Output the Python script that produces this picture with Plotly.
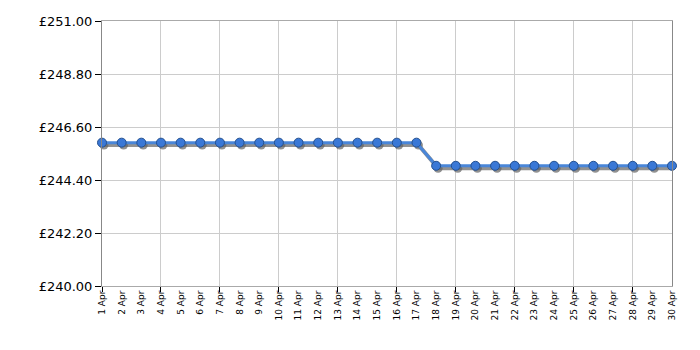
import plotly.graph_objects as go

days = [f"{d} Apr" for d in range(1, 31)]
prices = [245.95] * 17 + [244.99] * 13
y_ticks = [240.00, 242.20, 244.40, 246.60, 248.80, 251.00]

y_range = [240, 251]
n = len(days)
idx = list(range(n))
grid_idx = idx[::3]

fig = go.Figure()

# shadow trace on the (hidden) base axes, slightly shifted range
fig.add_trace(go.Scatter(
    x=idx, y=prices, mode="lines+markers", xaxis="x", yaxis="y",
    line=dict(color="rgba(100,100,100,0.7)", width=4),
    marker=dict(size=9, color="rgba(100,100,100,0.7)"),
    cliponaxis=False, hoverinfo="skip", showlegend=False))

# main trace on visible overlay axes
fig.add_trace(go.Scatter(
    x=idx, y=prices, mode="lines+markers", xaxis="x2", yaxis="y2",
    line=dict(color="#4a86d8", width=3),
    marker=dict(size=9, color="#3a78d6", line=dict(color="#24508f", width=1)),
    cliponaxis=False, showlegend=False,
    text=days, hovertemplate="%{text}: £%{y:.2f}<extra></extra>"))

# dummy trace for grid/tick overlay axis
fig.add_trace(go.Scatter(x=idx, y=prices, xaxis="x3", yaxis="y2", mode="markers",
                         marker=dict(opacity=0), hoverinfo="skip", showlegend=False))

font = "DejaVu Sans, Verdana, sans-serif"
xr = [0, n - 1]
fig.update_layout(
    width=700, height=350,
    margin=dict(l=102, r=28, t=21, b=64),
    paper_bgcolor="white", plot_bgcolor="white",
    font=dict(family=font, color="#000"),
    xaxis=dict(range=[-0.1, n - 1.1], visible=False, showgrid=False, zeroline=False),
    yaxis=dict(range=[y_range[0] + 0.1, y_range[1] + 0.1], visible=False,
               showgrid=False, zeroline=False),
    xaxis2=dict(range=xr, overlaying="x", anchor="y2", side="bottom",
                tickvals=idx, ticktext=days, tickangle=-90, showgrid=False,
                ticks="", tickfont=dict(size=9, family=font),
                showline=True, linecolor="#999", linewidth=1, zeroline=False),
    xaxis3=dict(range=xr, overlaying="x", anchor="y2", side="bottom",
                tickvals=grid_idx, showticklabels=False, ticks="outside",
                ticklen=5, tickcolor="#000", showgrid=True, gridcolor="#cccccc",
                gridwidth=1, showline=True, linecolor="#aaaaaa", mirror=True,
                zeroline=False),
    yaxis2=dict(range=y_range, overlaying="y", anchor="x2", side="left",
                tickvals=y_ticks, ticktext=[f"£{v:.2f}" for v in y_ticks],
                ticks="outside", ticklen=6, tickcolor="#000",
                tickfont=dict(size=13, family=font),
                showgrid=True, gridcolor="#cccccc", showline=True,
                linecolor="#888", linewidth=1, mirror=True, zeroline=False),
)

fig.write_html("out.html")
